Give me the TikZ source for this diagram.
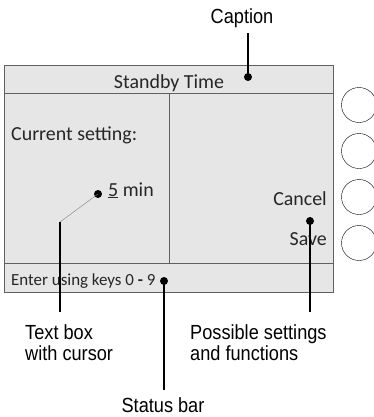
\documentclass[tikz,border=0pt]{standalone}
\usepackage{fontspec}
\usepackage{tikz}
\usetikzlibrary{shapes,positioning}
\newfontfamily\scrfont{Carlito}
\newfontfamily\lblfont[FakeStretch=0.89]{Liberation Sans}
\definecolor{screengray}{HTML}{E6E6E6}
\definecolor{framegray}{HTML}{606060}
\tikzset{scr/.style={font=\scrfont\fontsize{20}{22}\selectfont,text=black!85,inner sep=0pt},
         bar/.style={scr,font=\scrfont\fontsize{17}{20}\selectfont},
         lbl/.style={font=\lblfont\fontsize{20.5}{21}\selectfont,align=left,inner sep=0pt},
         dot/.style={circle,fill=black,inner sep=0pt,minimum size=8bp},
         key/.style={circle,draw,thin,inner sep=0pt,minimum size=35bp},
         lead/.style={line width=1.1bp}}

\begin{document}
\begin{tikzpicture}[x=1bp,y=-1bp]
    \useasboundingbox (0,0) rectangle (374,417);
    \draw[framegray,fill=screengray,line width=0.8bp] (4,65) rectangle (333,292);
    \draw[framegray,line width=0.8bp] (4,93) -- (333,93);
    \draw[framegray,line width=0.8bp] (4,263) -- (333,263);
    \draw[framegray,line width=0.8bp] (169,93) -- (169,263);

    \node[key] (k1) at (359,105) {};
    \node[key] (k2) at (359,151) {};
    \node[key] (k3) at (359,197) {};
    \node[key] (k4) at (359,243) {};

    \node[scr,anchor=base] (title) at (169,88) {Standby Time};
    \node[scr,anchor=base west] (cur) at (11,140) {Current setting:};
    \node[scr,anchor=base west] (val) at (108,196) {\underline{5} min};
    \node[scr,anchor=base east] (cancel) at (327,205) {Cancel};
    \node[scr,anchor=base east] (save) at (327,245) {Save};
    \node[bar,anchor=base west] (status) at (11,285) {Enter using keys 0 {\bfseries -} 9};

    \node[lbl,anchor=base] (cap) at (242,23) {Caption};
    \node[lbl,anchor=base west] (tbox) at (25,360) {Text box\\with cursor};
    \node[lbl,anchor=base west] (poss) at (190,360) {Possible settings\\and functions};
    \node[lbl,anchor=base] (sbar) at (163,412) {Status bar};

    \node[dot] (d1) at (248,77) {};
    \node[dot] (d2) at (98,194) {};
    \node[dot] (d3) at (310,221) {};
    \node[dot] (d4) at (164,281) {};

    \coordinate (c1) at (248,33);
    \coordinate (c2) at (60,222);
    \coordinate (e2) at (60,312);
    \coordinate (e3) at (310,312);
    \coordinate (e4) at (164,390);

    \draw[lead] (c1) -- (d1);
    \draw[gray,thin] (d2.center) -- (c2);
    \draw[lead] (c2) -- (e2);
    \draw[lead] (d3.center) -- (e3);
    \draw[lead] (d4.center) -- (e4);
\end{tikzpicture}
\end{document}
